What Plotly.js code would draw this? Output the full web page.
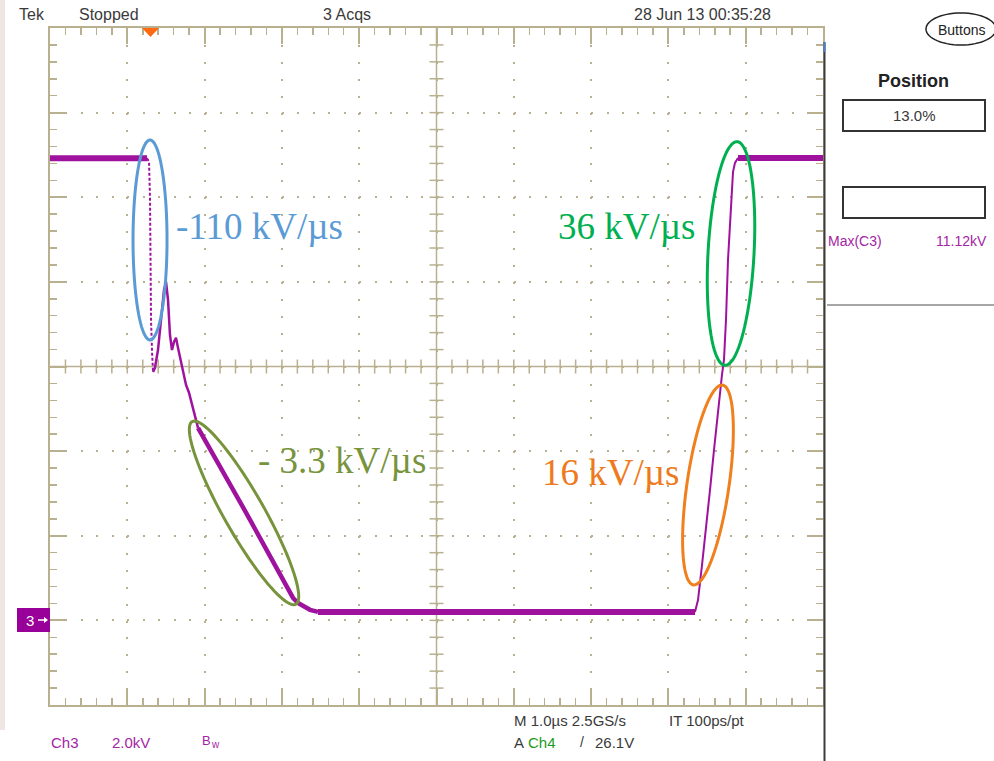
<!DOCTYPE html>
<html>
<head>
<meta charset="utf-8">
<script src="https://cdn.plot.ly/plotly-3.0.1.min.js"></script>
<style>html,body{margin:0;padding:0;background:#fff;}#chart{width:994px;height:761px;}</style>
</head>
<body>
<div id="chart"></div>
<script>
// ---- Waveform data: time in µs (1.0 µs/div, 0 = screen centre), Ch3 voltage in kV (2.0 kV/div) ----
const hiLeftT  = [-5.0, -4.4, -3.745];
const hiLeftV  = [10.92, 10.93, 10.92];
const dropT    = [-3.745, -3.719, -3.706, -3.700, -3.693, -3.680, -3.667];
const dropV    = [10.92, 10.84, 9.94, 8.52, 7.10, 6.35, 5.87];
const ringT    = [-3.667, -3.642, -3.603, -3.564, -3.525, -3.499, -3.473, -3.448, -3.422, -3.396, -3.370, -3.344, -3.318, -3.279, -3.241, -3.202, -3.163, -3.124, -3.085];
const ringV    = [5.87, 5.97, 6.39, 7.10, 7.81, 8.00, 7.57, 6.75, 6.39, 6.58, 6.68, 6.44, 6.21, 5.92, 5.57, 5.38, 5.09, 4.78, 4.55];
const slopeT   = [-3.085, -2.801, -2.477, -2.154, -1.856, -1.792, -1.727, -1.636, -1.533];
const slopeV   = [4.55, 3.65, 2.59, 1.52, 0.53, 0.41, 0.34, 0.25, 0.20];
const loT      = [-1.533, 0.0, 1.5, 3.344];
const loV      = [0.20, 0.19, 0.20, 0.20];
const riseT    = [3.344, 3.383, 3.435, 3.487, 3.538, 3.590, 3.642, 3.693, 3.719, 3.745, 3.771, 3.797, 3.823, 3.836, 3.861, 3.900];
const riseV    = [0.20, 0.48, 1.31, 2.14, 3.08, 4.03, 4.97, 5.80, 6.16, 7.10, 8.52, 9.35, 10.06, 10.60, 10.81, 10.93];
const hiRightT = [3.900, 4.5, 5.0];
const hiRightV = [10.93, 10.94, 10.93];

// slope labels
const slopeLabels = ['-110 kV/µs', '36 kV/µs', '- 3.3 kV/µs', '16 kV/µs'];
const slopeLabelT = [-2.296, 2.452, -1.222, 2.245];
const slopeLabelV = [9.30, 9.30, 3.79, 3.49];

// scope readouts
const headerTexts = ['Tek', 'Stopped', '3 Acqs', '28 Jun 13 00:35:28'];
const positionValue = '13.0%';
const measLabel = 'Max(C3)';
const measValue = '11.12kV';
const ch3Texts = ['Ch3', '2.0kV', 'B', 'w'];
const timebaseText = 'M 1.0µs 2.5GS/s';
const intervalText = 'IT 100ps/pt';
const triggerTexts = ['A', 'Ch4', '/', '26.1V'];

// ---- geometry ----
const L = 50, T = 28, W = 773, H = 677;
const X0 = -5, X1 = 5, Y0 = -2, Y1 = 14;
const PXT = W / (X1 - X0), PXV = H / (Y1 - Y0);
const px = x => (x - L) / W;
const py = y => (T + H - y) / H;

const PURPLE = '#9e129e';
const GRAT = '#b8b08e';
const TXT = '#3a3a3a';
const PTXT = '#a424a4';
const SANS = 'Liberation Sans, Arial, sans-serif';
const SERIF = 'Liberation Serif, Times New Roman, serif';

function seg(t, v, width, dash) {
  return {x: t, y: v, type: 'scatter', mode: 'lines', hoverinfo: 'skip',
          line: {color: PURPLE, width: width, dash: dash || 'solid'}};
}
const traces = [
  seg(hiLeftT, hiLeftV, 6),
  seg(dropT, dropV, 2, '3px,2px'),
  seg(ringT, ringV, 2.5),
  seg(slopeT, slopeV, 4.5),
  seg(loT, loV, 6),
  seg(riseT, riseV, 2),
  seg(hiRightT, hiRightV, 6)
];

const shapes = [];
// left page strip
shapes.push({type:'rect', xref:'paper', yref:'paper', x0:px(0), x1:px(5), y0:py(730), y1:py(0), fillcolor:'#efe5e3', line:{width:0}, layer:'below'});
// centre cross
shapes.push({type:'line', xref:'x', yref:'y', x0:0, x1:0, y0:Y0, y1:Y1, line:{color:GRAT, width:1.5}, layer:'between'});
shapes.push({type:'line', xref:'x', yref:'y', x0:X0, x1:X1, y0:6, y1:6, line:{color:GRAT, width:1.5}, layer:'between'});
for (let i = 1; i < 50; i++) {
  const t = X0 + i * 0.2;
  if (Math.abs(t) < 1e-6) continue;
  shapes.push({type:'line', xref:'x', yref:'y', x0:t, x1:t, y0:6 - 7/PXV, y1:6 + 7/PXV, line:{color:GRAT, width:1.5}, layer:'between'});
}
for (let i = 1; i < 40; i++) {
  const v = Y0 + i * 0.4;
  if (Math.abs(v - 6) < 1e-6) continue;
  shapes.push({type:'line', xref:'x', yref:'y', x0:-7/PXT, x1:7/PXT, y0:v, y1:v, line:{color:GRAT, width:1.5}, layer:'between'});
}
// highlight ellipses (annotation marks)
function ellipsePath(cT, cV, rx, ry, phiDeg) {
  const phi = phiDeg * Math.PI / 180, n = 90;
  let d = '';
  for (let i = 0; i <= n; i++) {
    const th = 2 * Math.PI * i / n;
    const a = rx * Math.cos(th), b = ry * Math.sin(th);
    const dx = a * Math.cos(phi) + b * Math.sin(phi);
    const dy = a * Math.sin(phi) - b * Math.cos(phi);
    d += (i ? 'L' : 'M') + (cT + dx / PXT).toFixed(4) + ',' + (cV - dy / PXV).toFixed(4);
  }
  return d + 'Z';
}
const ellipses = [
  {c:[-3.706, 8.99], rx:17, ry:100, phi:0,     color:'#5b9bd5'},
  {c:[3.810, 8.67],  rx:23, ry:112, phi:3.1,   color:'#00b050'},
  {c:[-2.490, 2.54], rx:20, ry:105, phi:-29.6, color:'#77933c'},
  {c:[3.512, 3.20],  rx:21, ry:101, phi:8.3,   color:'#f07f1e'}
];
ellipses.forEach(e => shapes.push({type:'path', xref:'x', yref:'y', path:ellipsePath(e.c[0], e.c[1], e.rx, e.ry, e.phi), line:{color:e.color, width:3}, layer:'above'}));

// trigger position marker (orange triangle)
shapes.push({type:'path', xref:'paper', yref:'paper', path:`M${px(142)},${py(28)}L${px(159)},${py(28)}L${px(150.5)},${py(37)}Z`, fillcolor:'#ff6a10', line:{width:0}});
// Ch3 ground marker box and arrow
shapes.push({type:'rect', xref:'paper', yref:'paper', x0:px(17), x1:px(50), y0:py(632), y1:py(608), fillcolor:'#990099', line:{width:0}});
shapes.push({type:'line', xref:'paper', yref:'paper', x0:px(38), x1:px(47), y0:py(620), y1:py(620), line:{color:'#ffffff', width:1.5}});
shapes.push({type:'path', xref:'paper', yref:'paper', path:`M${px(44)},${py(617)}L${px(48)},${py(620)}L${px(44)},${py(623)}Z`, fillcolor:'#ffffff', line:{width:0}});
// right panel
shapes.push({type:'line', xref:'paper', yref:'paper', x0:px(824.5), x1:px(824.5), y0:py(42), y1:py(761), line:{color:'#3c3c3c', width:2}});
shapes.push({type:'line', xref:'paper', yref:'paper', x0:px(824.5), x1:px(824.5), y0:py(42), y1:py(52), line:{color:'#4a80c8', width:2}});
shapes.push({type:'rect', xref:'paper', yref:'paper', x0:px(843), x1:px(985), y0:py(131), y1:py(100), line:{color:'#333', width:2}});
shapes.push({type:'rect', xref:'paper', yref:'paper', x0:px(843), x1:px(985), y0:py(218), y1:py(187), line:{color:'#333', width:2}});
shapes.push({type:'line', xref:'paper', yref:'paper', x0:px(827), x1:px(994), y0:py(305), y1:py(305), line:{color:'#8a8a8a', width:1.5}});
// Buttons oval
(function(){
  const cx = 961, cy = 29, rx = 35, ry = 16, n = 60; let d = '';
  for (let i = 0; i <= n; i++) { const th = 2*Math.PI*i/n; d += (i?'L':'M') + px(cx + rx*Math.cos(th)).toFixed(5) + ',' + py(cy + ry*Math.sin(th)).toFixed(5); }
  shapes.push({type:'path', xref:'paper', yref:'paper', path:d+'Z', line:{color:'#222', width:1.5}});
})();

const ann = [];
function txt(text, x, y, opts) {
  opts = opts || {};
  ann.push({xref:'paper', yref:'paper', x:px(x), y:py(y), text:text, showarrow:false,
    xanchor:opts.xa || 'left', yanchor:'middle',
    font:{family:opts.family || SANS, size:opts.size || 15, color:opts.color || TXT, weight:opts.weight || 'normal'}});
}
txt(headerTexts[0], 17, 14, {size:16});
txt(headerTexts[1], 77, 14, {size:16});
txt(headerTexts[2], 347, 14, {size:16, xa:'center'});
txt(headerTexts[3], 632, 14, {size:16});
txt('Buttons', 961, 30, {size:14, xa:'center', color:'#222'});
txt('Position', 913, 81, {size:18, xa:'center', color:'#222', weight:'bold'});
txt(positionValue, 914, 116, {size:15, xa:'center'});
txt(measLabel, 826, 241, {size:14, color:PTXT});
txt(measValue, 989, 241, {size:14, color:PTXT, xa:'right'});
txt(ch3Texts[0], 49, 742, {size:15, color:PTXT});
txt(ch3Texts[1], 110, 742, {size:15, color:PTXT});
txt(ch3Texts[2], 200, 740, {size:13, color:PTXT});
txt(ch3Texts[3], 209, 744, {size:10, color:PTXT});
txt(timebaseText, 512, 720, {size:15});
txt(intervalText, 667, 720, {size:15});
txt(triggerTexts[0], 512, 742, {size:15});
txt(triggerTexts[1], 526, 742, {size:15, color:'#1e9a1e'});
txt(triggerTexts[2], 578, 742, {size:14});
txt(triggerTexts[3], 593, 742, {size:15});
txt('3', 30, 620, {size:15, color:'#fff', xa:'center'});

const labelColors = ['#5b9bd5', '#00b050', '#77933c', '#ee7a20'];
slopeLabels.forEach((s, i) => ann.push({xref:'x', yref:'y', x:slopeLabelT[i], y:slopeLabelV[i], text:s, showarrow:false,
  xanchor:'center', yanchor:'middle', font:{family:SERIF, size:37, color:labelColors[i]}}));

const axisCommon = {
  showgrid:true, gridcolor:GRAT, gridwidth:2, zeroline:false,
  showline:true, linecolor:GRAT, linewidth:2, mirror:'ticks',
  ticks:'inside', ticklen:16, tickwidth:2, tickcolor:GRAT,
  showticklabels:false, fixedrange:true
};
const layout = {
  width:994, height:761,
  margin:{l:L, r:994 - L - W, t:T, b:761 - T - H, pad:0},
  paper_bgcolor:'#ffffff', plot_bgcolor:'#ffffff', showlegend:false,
  xaxis:Object.assign({}, axisCommon, {range:[X0, X1], tick0:0, dtick:1, griddash:'2px,14.93px',
    minor:{tick0:0, dtick:0.2, ticks:'inside', ticklen:7, tickwidth:1.5, tickcolor:GRAT, showgrid:false}}),
  yaxis:Object.assign({}, axisCommon, {range:[Y0, Y1], tick0:0, dtick:2, griddash:'2px,13.46px',
    minor:{tick0:0, dtick:0.4, ticks:'inside', ticklen:7, tickwidth:1.5, tickcolor:GRAT, showgrid:false}}),
  shapes:shapes, annotations:ann
};
Plotly.newPlot('chart', traces, layout, {displayModeBar:false, staticPlot:true});
</script>
</body>
</html>
